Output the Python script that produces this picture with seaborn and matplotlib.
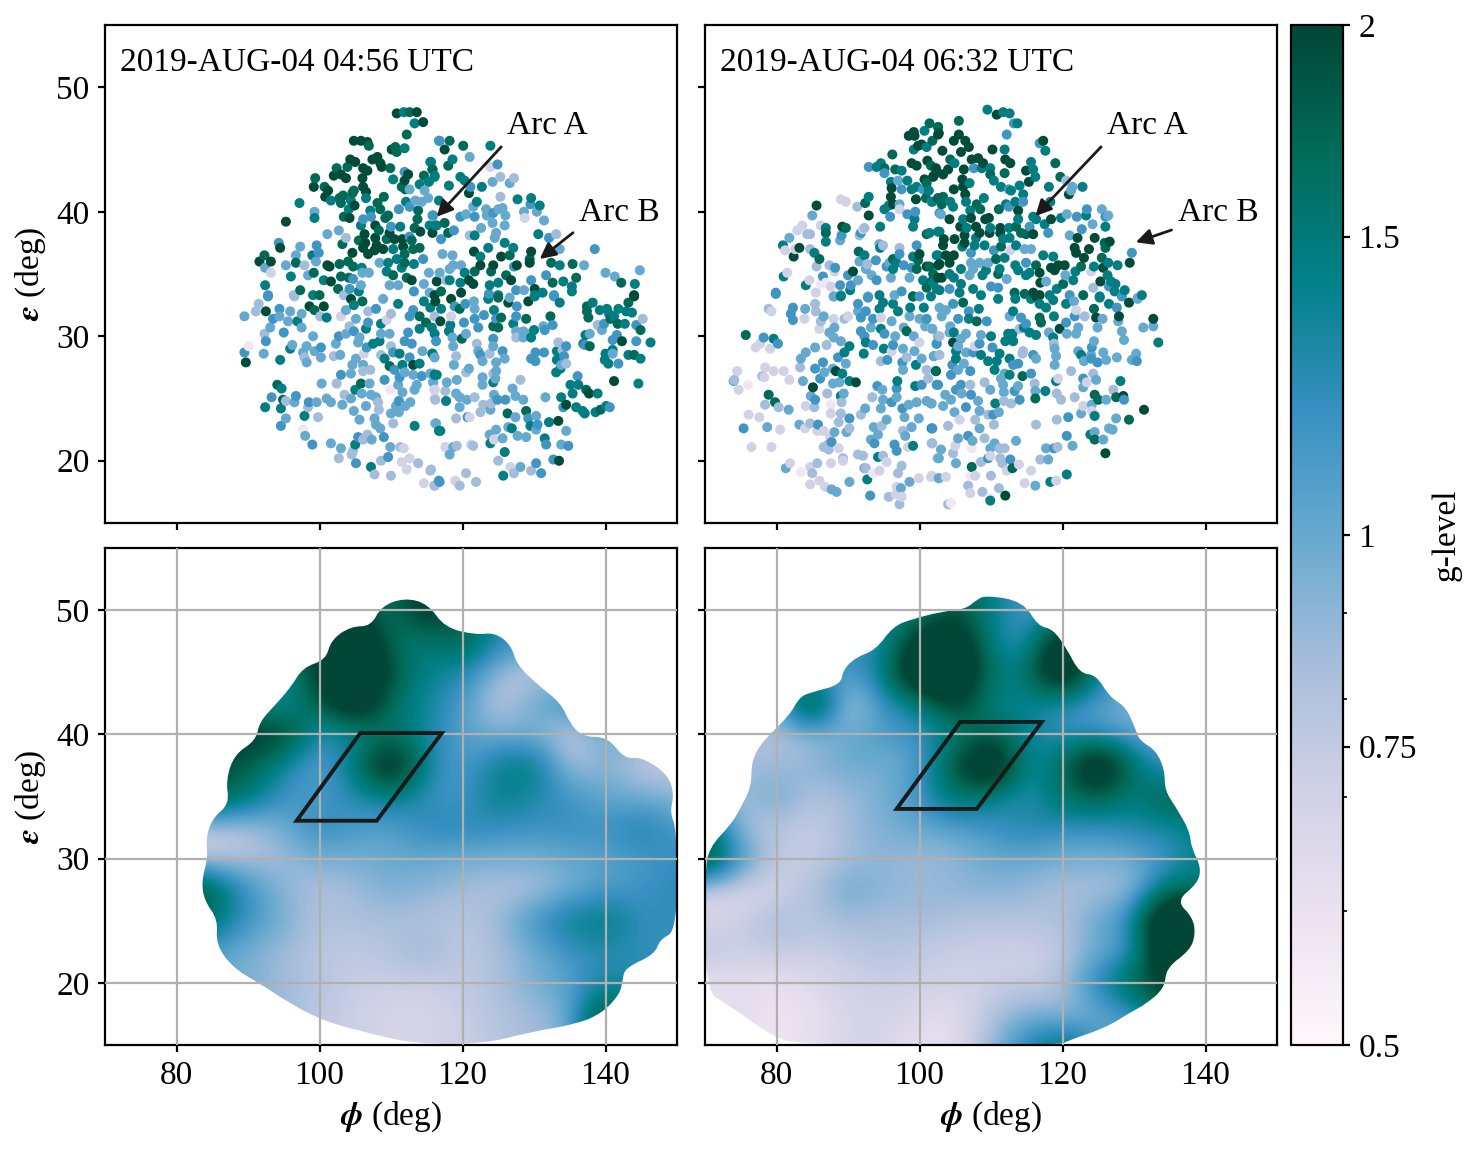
import numpy as np
import pandas as pd
import matplotlib
matplotlib.use("Agg")
import matplotlib.pyplot as plt
import seaborn as sns
from matplotlib.colors import LogNorm
from matplotlib.patches import Polygon, PathPatch
from matplotlib.path import Path
from matplotlib.cm import ScalarMappable
from matplotlib.ticker import NullFormatter

# g-levels
D, G, T, B, L, P, V, W = 1.95, 1.7, 1.45, 1.15, 1.0, 0.85, 0.7, 0.57

# ─── first epoch, scatter (phi, eps, g) ─────────────────────────
a_nw = [(110.8,47.9,D),(111.8,48,T),(112.6,48,G),(113.6,48,D),(113.3,47.1,T),(114.5,47.2,D),(112.2,46.2,G),(104.8,45.7,D),(105.8,45.7,D),(106.7,45.6,D),(106.9,45.3,G),(110.1,45,D),(110.6,45.2,G),(110.8,44.8,G),(111.9,45.1,T),(116.8,45.7,B),(104.3,44.2,D),(105,44,D),(107.4,44.2,D),(108.1,44.4,D),(108.5,43.9,D),(108.7,43.6,D),(115.5,44,T),(115.8,43.4,G),(102.4,43.5,G),(103.9,43.6,G),(102,42.9,D),(103,43,D),(103.7,42.7,D),(106.1,43.5,D),(106.7,43.3,D),(109.9,43.5,G),(111.9,43.2,B),(112.4,43,D),(116.1,42.9,T),(114.6,42.9,G),(110.3,42.6,T),(106,42.7,D),(111.9,42.5,D),(99.4,42.7,G),(99.2,42,D),(100.7,42,G),(101.2,41.7,D),(100.8,41.2,D),(106.1,42,D),(104.8,41.7,G),(104.6,41.5,G),(106.5,41.6,D),(111.5,42,G),(112,41.8,G),(112.6,41.8,L),(114,42.2,T),(115.3,42.4,T),(114.7,41.7,L),(103.3,41.3,G),(102.8,41.1,G),(104.4,40.9,T),(106.5,41.1,T),(109,41.2,G),(97.2,40.7,T),(103,40.7,G),(101.6,40.9,T),(104.9,40.5,D),(112.1,40.8,T),(113.4,40.9,L),(114.3,40.8,L),(115.2,41.1,L),(108.1,40.7,G),(104.1,40.2,T),(108.5,40.2,G),(107.1,40.1,T),(111.1,40.2,B),(112.6,40.4,B),(113.8,40.1,G),(99.3,40,L),(103.4,39.6,G),(104.2,39.5,D),(99.3,39.5,T),(95.3,39.2,D),(106.1,39.4,B),(107.2,39.6,B),(109.2,39.5,G),(109.6,39.7,G),(105.8,38.9,T),(107.8,38.9,D),(113.7,39.4,G),(115.9,39.7,B),(101.1,38.2,L),(102.7,38.5,L),(103.7,37.9,P),(103.2,37.4,G),(106.3,38.2,D),(108.3,38.5,G),(110,38.8,B),(111.3,38.8,T),(114.1,38.4,D),(113.3,38.7,G),(115.4,38.9,T),(116.4,38.9,T),(105.5,37.7,G),(106.4,37.5,D),(107.8,37.9,D),(109.8,38.3,D),(110.5,37.8,D),(111.6,37.8,D),(109.4,37.8,G),(112.6,38,B),(94.3,37.5,B),(94.5,37.1,D),(97.3,37.2,L),(99.6,37.3,B),(111.7,37.2,D),(112.9,37.7,G),(108,37.3,D),(106.1,37.1,D),(104.6,36.7,D),(106.8,36.6,D),(107.7,36.9,D),(108.9,37,D),(110.3,37,T),(111.9,36.6,G),(113.1,37,G),(114,37.1,G),(92.3,36.5,G),(93.2,36,D),(91.6,36,D),(96.7,36.5,L),(99,36.5,T),(99.9,36.7,B),(96.7,35.9,G),(99.5,36,L),(92.4,35.5,L),(95.3,35.7,L),(97.9,35.7,P),(101.1,35.7,D),(101.4,35.6,D),(102.8,35.8,G),(104,36,G),(104.7,35.6,G),(105.9,35.5,T),(108.4,35.9,L),(109.6,35.9,T),(110.8,36.2,T),(111.9,35.9,G),(113.2,35.8,T),(114.5,36.2,B),(93.2,35.1,V),(96,34.8,T),(98.4,34.9,L),(99.2,35.1,G),(103,34.8,G),(104.1,34.7,G),(104.7,34.6,B),(106,35.1,L),(106.9,35.1,L),(109.4,35.2,T),(110.3,34.9,G),(112.2,34.7,G),(111.5,35.5,T),(112.9,34.5,D),(115.3,35.1,L),(92.4,34.1,T),(97.3,33.7,G),(100.6,34.5,T),(101.6,34.4,D),(102.6,33.8,G),(104.2,33.8,B),(105.8,34.1,L),(105.5,33.6,T),(109.8,34.1,L),(111,34.1,L),(114.6,34.2,L),(116.4,34.4,D),(92.8,33.3,B),(96.4,33.3,P),(99.1,33.3,T),(100,33.3,G),(103.4,33.3,P),(113.2,33.6,B),(115.4,33.5,L)]
a_ne = [(116.7,45.7,B),(118.2,45.7,G),(117.5,45,D),(120.1,45.3,G),(123.9,45.3,T),(121,44.4,L),(118.6,44.2,T),(118,43.7,G),(115.6,44,T),(115.8,43.4,G),(116.1,42.8,T),(119.7,42.8,T),(120.3,42.5,T),(124.9,43.8,B),(123.9,43.6,V),(125.3,42.8,P),(127.2,42.7,P),(126.6,42.3,L),(124.2,42.4,L),(118.1,42.1,T),(122.7,42,T),(121.1,42,B),(120.9,41.5,D),(125.3,41.2,P),(127.7,41,T),(129.6,41.1,T),(129.5,40.6,B),(130.8,40.5,T),(122,40.8,T),(116.7,40.9,T),(121.5,40.4,L),(123.3,40.2,L),(125,40.2,L),(125.6,40.3,L),(119.7,39.6,B),(120.5,39.8,L),(121.7,39.6,B),(123.4,39.7,L),(124.3,39.9,B),(126,39.7,L),(125.9,38.9,L),(128.6,40,L),(128.7,39.5,V),(130.4,40,L),(131.4,39.3,L),(124.2,39.1,L),(122.6,38.7,L),(115.8,39.7,B),(117.5,39.1,G),(116.2,38.9,T),(118.8,38.5,B),(115.8,38.3,D),(118,38.3,G),(117,37.8,B),(121,38.1,P),(121.7,38.1,T),(124.7,38.3,L),(124.5,37.9,L),(130.6,38.2,T),(133.1,38.2,P),(132.1,37.9,B),(125.9,37.5,T),(127.1,37.1,T),(123.6,37.1,T),(121.6,36.8,D),(133.6,37,L),(138.5,37,B),(117.2,36.6,L),(118.6,36.5,L),(129.6,36.8,D),(125.4,36.4,D),(126.6,36.5,G),(122.5,36.4,T),(129.4,36.2,G),(129.4,35.9,D),(132.4,35.9,G),(133.6,35.7,T),(135.4,35.8,G),(137,35.7,L),(127.6,35.7,D),(124.3,35.7,D),(122.5,35.7,D),(118.7,35.7,L),(119.8,35.7,L),(127.2,35.6,B),(124,35.2,G),(121.7,35.2,G),(120.3,35.1,T),(118.2,35.4,L),(116.8,35.1,L),(140,35.1,L),(141.3,34.8,L),(144.8,35.3,L),(131.7,34.9,B),(142.2,34.3,G),(144.1,34.2,T),(135.9,34.7,G),(126.1,34.9,G),(126.8,34.5,D),(120.9,34.5,D),(129.6,34.5,B),(132.6,34.3,G),(134.1,34.4,T),(135.3,34,T),(125,34.3,T),(123.8,34.1,T),(119.7,34.3,T),(118.2,34.5,T),(117.7,34.5,P),(121.5,34.2,D),(130.1,33.8,D),(127.5,33.7,B),(128.6,33.7,L),(131.2,33.5,T),(132.8,33.3,B),(135.3,33.6,T),(144,33.3,D),(125,33.3,T),(123.7,33.4,B),(119.8,33.5,D),(117,33.6,G),(116.1,33.3,D),(130.1,33.3,T)]
a_sw = [(92.8,33.2,B),(96.5,33.2,P),(91.5,32.6,P),(91.1,32,P),(92.5,32,D),(94.4,32.2,B),(89.5,31.6,L),(93.5,31.4,B),(94.4,31.6,L),(95.9,32,L),(95.6,31.2,L),(96.9,31.2,T),(97.5,31.8,L),(98.6,32.4,D),(99.3,32.1,G),(100.6,32.4,D),(101,31.5,T),(100.1,31.6,P),(103,31.6,V),(104.4,33,D),(103.7,32.1,L),(104.8,32.5,T),(106,32.8,G),(106.8,32,P),(107.9,32.2,B),(108.9,33,L),(111,32.6,T),(105.1,31.4,L),(106.8,31.1,B),(108.6,31,T),(110,31.8,P),(109.4,31.3,V),(113.1,32.1,B),(114,31.6,G),(112.6,31.6,B),(114.9,31.1,G),(115.5,32.3,T),(116.2,32.8,D),(114.6,32.8,T),(93.1,30.7,L),(97.5,30.7,L),(92.3,30.2,P),(95,30.3,B),(92.5,29.6,B),(99.1,30,L),(102.7,30,B),(104.2,30.8,P),(103.7,30.2,L),(104.8,30.4,B),(106.5,30.6,T),(90.1,29.2,W),(89.5,28.7,B),(89.7,27.9,D),(92.2,28.6,L),(94.5,28.1,T),(96.2,29.3,L),(95.9,29,T),(98.2,29.2,L),(97.7,28.7,L),(100.2,29.1,B),(99.3,28.8,L),(102.3,29.4,L),(102,28.4,P),(102.9,28.5,L),(100.2,28.3,L),(97.9,28.3,P),(98.2,27.9,L),(105.4,29.5,L),(105.6,29.9,L),(106.6,29.1,B),(107.5,29.4,T),(108.6,30.2,L),(108.4,29.6,T),(110,29.2,P),(111.9,29.6,B),(112.9,29.4,B),(114,30.6,T),(115.7,30.7,T),(109.8,30.2,L),(112.4,30.3,B),(106.2,28.6,V),(105.1,28.2,L),(104.6,27.7,L),(106.1,27.7,L),(108.6,28.5,P),(110.3,28.7,B),(111.2,28.6,T),(112.6,28.3,B),(114.4,28.8,L),(115.8,28.6,T),(109.8,27.6,G),(111.6,27.7,T),(113.1,27.7,D),(114,27.8,T),(109.1,28.2,T),(110.5,27.3,B),(103,26.9,B),(104.4,27,L),(106.1,27.2,P),(107.1,27.3,P),(111.9,27.1,L),(113.1,26.9,L),(114.3,26.8,B),(115.5,27,L),(116.4,26.9,T),(109.1,26.5,B),(111.2,26.7,B),(111,26.1,L),(113.6,26.1,L),(115.9,26.3,L),(94.1,26.1,G),(94.7,25.8,T),(100.3,26.2,L),(102.4,26.2,P),(105.8,26.2,G),(107,26.2,L),(105,25.7,T),(105.9,25.4,L),(109.9,25.7,W),(111.6,25.5,L),(113.3,25.7,L),(93.3,25.1,B),(96.7,25.2,B),(94.9,24.9,G),(96.5,24.7,L),(95.3,24.8,P),(103.5,25.3,P),(107.2,25.3,L),(107.9,25.1,L),(108.2,24.7,P),(116.1,25.7,V),(116.2,24.9,P),(92.4,24.3,T),(94.6,24.2,T),(98.5,24.7,B),(98.4,24.3,P),(99.6,24.7,L),(101,25,L),(101.6,24.7,L),(103.2,24.5,L),(104.4,25,L),(106.5,24.4,L),(108.3,24.1,P),(111.1,24.8,B),(110.7,24.4,L),(112.7,24.7,L),(112,24.4,L),(104.8,24,L),(105.6,23.3,L),(110,23.8,L),(111.1,23.9,L),(95.3,23.4,L),(97.9,23.6,T),(99.8,23.5,P),(107.7,23.4,L),(94.6,22.8,B),(107.9,22.9,L),(108.5,22.6,L),(110.3,23,P),(113.3,22.8,T),(116.3,23,L),(116.7,22.4,T),(97.7,22.5,W),(98,22,L),(105.4,21.9,B),(106.7,22.1,P),(106.1,21.7,P),(107.3,21.7,L),(109,21.9,B),(99,21.3,B),(101.6,21.4,L),(105,21.3,T),(103,21,L),(109.9,21.1,L),(111.3,21.1,P),(111.8,21,V),(104.7,20.8,P),(104.5,20.5,P),(102.7,20.2,P),(109.6,20.3,B),(108.6,20,P),(112.6,20.2,V),(111.5,19.9,V),(113.8,19.8,P),(105.1,19.8,B),(107.2,19.5,T),(112.2,19.3,V),(115.5,19.2,P),(107.7,18.9,P),(110,18.8,P),(114.6,18.2,V),(116.1,18,P),(116.7,18.4,B)]
a_se = [(118.4,33,D),(117,32.2,T),(116.1,31.6,P),(118.4,31.6,V),(116.9,31.2,D),(118.9,32.4,B),(120.4,32.6,B),(121.6,32.8,L),(121.7,32.2,L),(119.6,32.2,G),(123,31.7,B),(121.7,31.4,B),(120.2,31.1,B),(122.2,30.7,B),(118.3,30.9,T),(118.1,30.4,T),(120.5,30.2,L),(119.9,29.8,G),(116.1,30.2,T),(116.3,29.6,B),(118.6,29.9,L),(118.7,29.2,L),(115.8,28.6,T),(116.1,28.3,L),(119.1,28.4,P),(118.8,27.7,L),(122,29.4,P),(124.3,29.8,B),(124.3,29.2,L),(122.2,28.8,L),(122.5,28.5,B),(123.8,28.6,P),(122.8,28,L),(125.6,28.8,B),(124.7,27.9,L),(125.9,28.2,L),(120.9,27.4,L),(120.5,27.1,P),(124.7,27.2,L),(124.3,27,P),(115.9,27,L),(116.1,26.9,T),(115.9,26.3,L),(117.8,26.3,L),(119.2,26.5,L),(122.8,26.7,L),(124.6,26.6,L),(124.3,26.3,T),(122.8,26.1,L),(128.1,26.5,P),(116.1,25.7,V),(117.6,25.6,P),(119.1,25.4,L),(127,25.8,L),(116.1,25,V),(117.7,24.8,T),(119.6,25.1,L),(120.6,24.9,L),(121.7,25.1,P),(124.4,25.3,L),(124.9,24.9,B),(126,24.9,B),(127.4,25.2,L),(128.5,24.9,L),(131.6,25.1,L),(133.8,25.1,T),(134.5,24.5,D),(134.1,24.3,B),(122.9,24.5,P),(124,24.6,P),(123.9,24.1,L),(119.6,24.3,L),(122.5,23.9,P),(121,23.5,V),(120.7,23.5,B),(119.1,23.4,P),(126.3,23.8,G),(128.9,24,G),(127.4,23.5,L),(130.3,23.6,L),(129.2,23.4,B),(133.4,23.2,D),(132.1,23.1,T),(130.5,22.9,B),(129.5,22.8,T),(130.3,22.5,L),(134.5,22.4,L),(116.2,23,L),(116.9,22.4,T),(126.4,22.7,L),(126.9,22.6,T),(124.7,22.5,L),(123.8,22.1,L),(127.7,22,L),(128.9,21.9,L),(125.6,21.8,L),(124.4,21.7,V),(123.9,21.4,T),(131.5,21.8,T),(131.7,21.3,B),(133.8,21.3,L),(134.8,21.2,B),(121.2,21.3,V),(121.5,21.2,P),(117.6,21.1,V),(118.7,21.1,L),(119.2,21.2,P),(118.2,20.5,L),(125.9,20.7,T),(125,20,P),(132.7,20.1,B),(133.5,20,D),(130.3,19.8,B),(126.7,19.5,V),(128.1,19.5,L),(129.6,19.2,P),(127.2,19,P),(131,19,B),(115.6,19.3,P),(125.7,18.8,T),(120.5,19,P),(121.9,18.3,P),(119,18.4,V),(116.8,18.3,B),(116.1,18,P),(119.6,18,P),(137.4,32.4,G),(138.2,32.7,T),(137.4,32,G),(137.6,31.5,G),(139.2,32.1,T),(140.2,32.2,T),(140.5,31.8,T),(140.7,31.4,G),(141.8,32.2,T),(142.9,32,T),(143.7,31.9,T),(143.2,32.7,G),(144,33.2,D),(145.2,31.4,P),(141.2,31.6,T),(141.7,31,G),(142.7,31,T),(144.3,30.9,B),(144.9,30.5,G),(138.9,30.9,P),(139.8,31,B),(139.5,30.5,L),(137.2,30.1,T),(137.8,30.2,L),(141.6,30.1,B),(141,29.7,B),(142.3,29.6,D),(144.3,29.6,B),(146.3,29.5,T),(136.9,29.4,T),(137.8,29.2,G),(137.1,29.3,B),(140,28.6,T),(141,28.9,T),(141,28.6,L),(143.2,28.5,T),(144,28.5,G),(144.9,28.2,T),(139.9,28.1,T),(140.4,27.8,T),(141.8,27.8,B),(133.4,29.5,P),(134.5,29.2,B),(134,28.9,P),(133.2,28.8,T),(134.2,28.4,B),(133.2,28.1,T),(134.5,27.8,P),(133.8,27.7,L),(133.1,27.1,T),(133.7,27.4,T),(129.6,28.2,B),(130.2,28.7,B),(130.2,28,B),(131.4,28.7,B),(141.2,26.4,D),(144.6,26.2,T),(136.1,26.8,B),(135.1,26.1,T),(136.2,26.1,T),(137.3,25.7,G),(137.7,25.4,D),(138.9,25.4,T),(135.4,25.4,T),(135.9,24.3,T),(136.8,24,T),(137.1,23.8,T),(138.6,23.9,T),(139.3,24.1,G),(140.1,24.4,T),(140.6,24.3,B),(128.9,31.4,G),(127.1,31,T),(127.5,31.6,B),(126.4,32.7,D),(129.2,32.8,D),(130.1,33.2,T),(132.8,33.2,B),(133.6,32.7,T),(132.3,31.6,G),(132.6,30.9,B),(131.3,30.8,L),(131.5,30.5,B),(130,30.5,T),(124.3,30.8,G),(125,30.7,G),(125.4,31.5,G),(124.7,31.4,B),(127.5,30.4,L),(127.5,29.9,P),(128.5,30.4,L),(129.2,30.2,L),(129.6,29.9,T),(128.5,29.9,L),(124.4,32.1,T),(123.6,33,T),(125,33.1,G),(126.6,33.1,L),(127.6,32.4,B)]

# ─── second epoch, scatter (phi, eps, g) ────────────────────────
b_nw = [(101.4,47.1,G),(102.6,46.8,T),(100.7,46.5,T),(99.2,46.4,D),(98.5,46.1,D),(99.3,46.1,D),(102.6,46.2,D),(101.8,45.7,G),(100.3,45.4,D),(99.8,45.3,D),(99.2,45,T),(101,45.2,T),(96.2,44.6,G),(98.9,43.9,D),(99.6,43.7,D),(101.1,44.1,D),(101.6,43.7,G),(102.4,43.3,D),(101.9,42.8,D),(94.6,43.9,T),(92.9,43.6,B),(94,43.6,T),(95.1,43.5,G),(95.1,43.1,B),(96.6,43.4,G),(97.5,43.3,T),(97,42.5,L),(96,42.4,T),(98.3,42.5,T),(100.7,42.6,D),(101,42.3,G),(96.1,41.9,D),(97.5,41.8,B),(99.6,42,T),(98.9,41.8,T),(100.5,41.8,B),(101.3,41.7,T),(96,41.2,D),(99.5,41,D),(100.9,41.1,G),(102.6,41.1,D),(92.9,41.2,T),(92.4,40.7,G),(89,41,V),(89.7,40.8,V),(85.6,40.5,D),(91.3,40.4,P),(95.7,40.5,T),(96.3,40.6,D),(97.2,40.6,L),(95.1,40.2,T),(97.2,40.2,V),(101.7,40.8,B),(98.3,39.8,B),(99.4,40,B),(85,39.7,L),(92.9,39.7,D),(95.9,39.6,B),(99.3,39.4,T),(102.8,39.9,B),(99.1,38.8,T),(94.5,38.8,T),(83.6,38.9,V),(82.9,38.5,V),(86.2,38.9,V),(86.9,38.7,T),(86.9,38.3,G),(89.2,38.8,D),(89.7,38.7,G),(92.3,38.7,P),(92.1,38.6,V),(91.8,38.3,B),(91.6,38.1,P),(84.3,38.2,P),(84.7,38.2,P),(81.8,37.9,L),(89.1,38.1,B),(88.9,37.7,L),(86.9,37.6,T),(80.9,37.3,T),(83.2,37.1,D),(82.6,37,V),(81.2,36.9,V),(82.4,36.4,D),(84.7,37,P),(85.3,36.7,T),(86,36.2,G),(94.4,37.4,L),(94.9,37.3,P),(94.5,37.1,T),(97.2,37.1,P),(99.6,37.3,B),(101,38.2,G),(102.6,38.4,T),(92.3,36.5,T),(91.5,36.8,G),(93.9,36.1,B),(91.6,36,L),(92.7,35.8,P),(96.3,36.2,G),(97.2,36.6,B),(99.1,36.4,T),(100,36.6,D),(99.8,36.1,G),(102.4,36.5,T),(95.8,35.9,L),(95.4,35.6,B),(96.8,35.9,T),(97.8,35.7,B),(98.9,35.5,B),(101,35.6,D),(101.4,35.6,G),(102.6,35.7,D),(85.6,35.6,P),(87.4,35.7,P),(88.2,35.5,B),(88.1,35.2,V),(81.5,35.1,V),(81,34.8,T),(90.7,35.2,D),(90,34.9,B),(92.5,35.4,L),(93.3,34.9,L),(96,34.7,L),(94,34.5,B),(96.3,35.4,T),(99.6,35.4,G),(98.6,34.7,L),(100.5,34.5,T),(101.7,34.4,G),(102.6,34.7,D),(86.5,34.8,B),(84.6,34.5,V),(91.4,34.5,L),(84.1,34.1,T),(87.6,34,V),(86.9,34.3,W),(86.2,34.2,W),(88.9,34.1,B),(90.4,34.1,B),(90.3,33.7,T),(79.9,33.5,B),(85.5,33.5,V),(88,33.2,L),(89,33.3,B),(92.8,33.2,L),(94.4,33.3,T),(97.5,33.6,B),(96.5,33.3,L),(99.1,33.2,T),(101,33.9,G),(102.4,33.8,T),(100,33.2,B)]
b_ne = [(109.5,48.2,T),(110.8,47.8,D),(111.7,48,T),(112.6,47.9,T),(105.5,47.3,G),(113.2,47.1,B),(113.7,47.1,T),(112.2,46.2,B),(102.6,46.8,G),(102.7,46.3,D),(104.8,45.7,D),(105.5,46.2,D),(106.4,45.7,D),(106.9,45.2,D),(105.8,44.8,D),(103.2,44.9,D),(110.2,45,D),(111.9,45,T),(116.8,45.5,B),(117.3,45.7,D),(117.6,44.9,T),(107.3,44.2,D),(108.2,44.3,D),(108.9,43.9,D),(104.3,44.2,G),(104.9,43.9,T),(112,44.2,D),(112.7,43.9,D),(115.6,44,T),(119,43.9,G),(107.6,43.5,B),(109.9,43.5,T),(108.7,43.5,T),(106.2,43.4,D),(104,43.4,D),(102.3,43.5,D),(103.3,43,D),(102,42.9,D),(114.9,43.3,D),(115.9,43.4,T),(111.9,43.1,G),(109.9,43,G),(116.2,42.8,T),(115.3,42.4,D),(119.7,42.8,G),(106,42.6,D),(110.4,42.5,T),(107,42.3,T),(114,42.1,T),(111.4,42,T),(112.5,41.8,B),(112.8,41.7,T),(118.1,42,T),(120.5,42.5,P),(121.4,42,L),(121.2,41.7,L),(122.8,42,T),(120.9,41.4,D),(104.8,41.8,D),(106.1,42,D),(106.4,41.4,D),(103.3,41.2,G),(102.8,41.1,G),(109,41.1,T),(114.5,41.4,T),(101.8,40.8,T),(104.3,40.8,T),(106.5,40.8,T),(113.4,40.8,T),(114.5,40.8,B),(112.1,40.6,T),(118.3,40.8,T),(103.1,40.6,G),(108,40.6,G),(111.1,40.2,G),(108.5,40.2,G),(112.5,40.4,B),(104.7,40.4,T),(107.1,40.1,T),(113.8,40.1,D),(125.5,40.2,L),(123.4,40.2,B),(103,39.8,L),(104.2,39.4,D),(109.7,39.5,D),(109.2,39.4,D),(107.2,39.5,D),(106.1,39.4,T),(113.8,39.4,T),(116.3,39.4,T),(118.4,39.4,D),(115.9,39.6,T),(120.6,39.8,L),(122,39.6,B),(123.3,39.7,T),(126,39.6,B),(126.4,39.7,L),(119.8,39.5,T),(105.7,38.8,D),(106.6,38.7,T),(107.9,38.8,D),(109.9,38.7,T),(111.3,38.7,D),(112.5,38.7,T),(113.5,38.8,G),(115.4,38.8,B),(117.5,39,T),(124.2,39,L),(126,38.8,T),(122.7,38.6,B),(101.4,38.3,T),(102.8,38.4,T),(106.3,38.1,D),(108.4,38.3,D),(109.8,38.3,D),(111.3,38.3,D),(114.2,38.3,G),(114.9,38.2,G),(115.9,38.2,D),(118,38.3,B),(121,38.1,L),(122.1,37.9,D),(124.5,37.9,D),(103.4,37.8,D),(104.9,37.8,D),(106.3,37.5,D),(107.9,37.9,T),(111.7,37.8,T),(112.6,37.9,T),(103.3,37.3,D),(106,37.2,T),(107.7,37.3,T),(109.1,37.3,T),(111.4,37.2,G),(112.7,36.9,V),(113.5,37.3,T),(114.7,37,L),(115.6,37,L),(125.9,37.5,G),(126.6,37.6,D),(121.7,37.1,D),(123.7,37,D),(126,37.1,G),(129.7,36.7,B),(102.6,36.5,T),(103.7,36.5,D),(104.8,36.5,D),(107.2,36.7,B),(110.4,36.9,B),(117.3,36.5,T),(118.7,36.4,T),(121.9,36.7,D),(123,36.3,D),(102.8,35.8,D),(104.2,35.9,D),(107.2,35.9,L),(108.4,35.9,L),(109.6,35.9,L),(110.7,36.2,G),(111.9,36.3,T),(113.4,35.7,T),(114.9,35.9,B),(116.3,35.7,G),(129.4,35.9,D),(125.5,36.3,G),(127.7,35.7,T),(126.4,35.9,T),(124.4,35.6,T),(122.6,35.6,G),(125.7,35.5,D),(118.4,35.5,D),(119.4,35.7,D),(120.3,35.7,D),(118.9,35.3,D),(120.4,34.9,L),(116.8,35.1,D),(124,35.2,V),(121.8,35.2,T),(105.8,35.4,T),(107.5,35.4,L),(109.3,35.3,T),(111.2,35.4,T),(113.8,35.3,T),(115.4,35.1,T),(104.2,35,T),(101.9,35,G),(103.1,34.7,D),(104.8,34.7,T),(107,34.9,L),(108.8,34.9,T),(111,35,G),(112.2,34.6,L),(114.9,34.9,T),(116.9,34.3,D),(117.7,34.4,L),(125.3,34.4,D),(126.3,34.9,T),(126.8,34.4,T),(119.2,33.8,T),(120.1,34.2,G),(121.5,34.5,T),(124.3,33.9,P),(126.5,34,B),(127.4,34.2,T),(128.7,33.7,T),(127.3,33.6,T),(131.1,33.3,T),(130.5,33.1,P),(110,34,B),(111,33.9,B),(101.9,34.3,T),(104.2,33.8,B),(102.8,33.7,T),(105.8,34.2,T),(105.6,33.5,T),(107.5,33.8,T),(108.6,33.3,T),(113.3,33.5,G),(114.7,33.4,G),(115.9,33.5,D),(116.8,33.3,D),(118.2,33.3,T),(121,33.3,B),(122.9,33.3,G),(125.2,33.2,T),(128.3,33.2,B)]
b_sw = [(78.9,32.2,P),(79.3,32,V),(82.3,32.3,B),(82,31.8,B),(82.3,31.3,B),(84,32.2,L),(83.9,31.4,V),(85.4,32.6,P),(85.5,32,P),(86.6,31.6,L),(86.2,31.2,P),(88,31.4,V),(89.5,31.4,P),(90,31.6,V),(86,30.6,V),(88.1,30.7,L),(87.4,30.3,L),(88,29.9,L),(89,29.6,L),(75.7,30.1,G),(78.2,29.9,B),(79.6,29.8,T),(80.2,29.4,B),(77.7,29.4,V),(77.1,29.1,V),(79.1,29,V),(87,29.3,P),(90.2,29.2,T),(89.5,28.7,T),(85.4,29.1,L),(84.1,28.7,L),(83.4,28.2,L),(88.6,28.3,B),(89.7,27.8,L),(86.5,27.9,B),(92.2,28.6,T),(83.3,27.5,P),(85.4,27.4,B),(87.9,27.4,L),(86.7,27.1,L),(88.3,27.2,D),(89.2,27,T),(78.4,27.5,V),(79.6,27.2,V),(81,27.2,V),(74.5,27.2,V),(78,26.8,P),(78.3,26.7,V),(81.8,26.5,V),(86.1,26.6,B),(83.7,26.4,L),(74.1,26.5,P),(74,26.4,L),(76,26.1,W),(74.7,25.7,V),(85.1,25.9,D),(87.9,26.2,L),(88.8,26.3,L),(90.2,26.4,T),(91.1,26.3,D),(94.1,26,B),(94.8,25.7,L),(96.9,26.4,T),(96.8,25.8,B),(99.4,26,T),(100.3,26.1,B),(101.2,26.6,P),(102.4,26.1,B),(102.3,27.2,G),(101,27.3,P),(99.5,27.7,T),(97.7,27.3,L),(97.6,27.9,B),(95.5,28.1,B),(94.6,28,P),(100.3,28.2,L),(102,28.4,L),(98.2,28.3,P),(99.3,28.8,L),(97.7,29,L),(96.3,29.3,B),(96.1,28.8,V),(95,29,T),(93.5,29.3,B),(92.5,29.5,T),(91.8,30.4,B),(92.3,30,B),(94.6,30.6,T),(95.1,30.2,B),(93.2,30.7,L),(96.6,30,L),(98.2,30.4,G),(99.2,30,L),(100,29.5,V),(102.4,29.4,B),(100.8,30.8,L),(101.7,30.6,P),(102.6,30,L),(91.4,32,L),(92.5,32,B),(91.8,31.5,B),(93.5,31.4,B),(94.6,31.5,V),(94.4,32.2,T),(96.1,31.2,L),(97.8,30.7,L),(98.6,31.6,L),(100,31.4,L),(101,31.4,B),(96.3,32.6,T),(97,32,T),(98.7,32.3,T),(100.6,32.3,T),(102.8,32.3,L),(99.1,33.2,G),(101.6,33.2,T),(92.8,33.1,B),(94.9,32.7,T),(91.4,32.6,B),(89,33.2,T),(88,33.2,L),(79.9,33.4,B),(78.9,25.3,G),(79.8,24.7,G),(78.4,24.5,P),(80.3,24.3,P),(81.7,24.1,L),(84.8,25.2,L),(85.4,24.9,B),(84.1,24.4,V),(85.3,24.3,P),(87.1,25.4,P),(89.4,25.4,L),(89,25.2,T),(89.1,24.7,P),(87.6,24.5,W),(87.6,23.8,V),(89,23.8,P),(93.4,25.1,P),(94.9,24.9,L),(96.1,24.7,B),(96.8,25.1,L),(94.6,24.2,L),(92.4,24.2,L),(91.8,23.7,P),(97.6,24.2,B),(98.5,24.5,L),(99.6,24.7,L),(101,24.8,L),(101.7,24.6,L),(97.9,23.5,L),(99.9,23.4,L),(76.1,23.7,V),(77.6,23.5,V),(75.4,22.6,B),(78.7,22.7,L),(80.5,22.5,V),(83.2,22.9,L),(84.7,23,P),(85.8,22.9,B),(84,22.6,V),(85.7,22.4,V),(86.6,22.4,V),(88.7,23.1,P),(90.2,23.4,B),(90.2,22.6,P),(89.8,22.3,L),(88.1,22.3,L),(87.5,21.9,V),(87.7,21.5,B),(95.4,23.3,L),(93.6,22.7,L),(94.7,22.8,P),(94.2,22.1,L),(93.2,21.7,L),(93.7,21.4,B),(97.7,22.4,P),(98.9,22.7,L),(101.7,22.6,T),(98,22,L),(101.7,21.4,P),(96.5,21.3,B),(96.8,20.8,B),(98.4,21.1,V),(99.1,21.2,T),(86.6,21.1,P),(87.2,21.3,P),(88.7,21,V),(87.3,20.9,P),(76.5,21.1,V),(79.3,21.1,V),(91.4,20.5,P),(92.1,20.4,P),(94.2,20.3,T),(94.9,20.4,P),(95.4,19.9,V),(89.3,20.2,P),(89.3,20,V),(102.5,20.2,P),(81.9,19.8,V),(81.3,19.4,L),(85.7,19.8,P),(87.6,19.8,V),(84.7,19.5,V),(83.4,19.1,W),(85,19,P),(92.3,19.4,L),(92.5,19.4,P),(97.5,19.6,P),(94.4,19.2,V),(93.5,19,W),(97,19,P),(101.7,18.8,V),(99.9,18.6,V),(102.7,18.6,L),(92.7,18.5,T),(98.6,18.3,L),(86,18.4,V),(84.7,18.1,V),(90.2,18.3,L),(86.8,17.9,V),(87.7,17.7,L),(88.4,17.5,L),(96.8,17.9,V),(97.4,17.8,L),(93.1,17.2,B),(95.7,17.1,P),(96.7,17.3,V),(97.5,17.1,V),(97.2,16.5,P)]
b_se = [(129.3,32.7,D),(130.5,33,L),(131.3,30.7,L),(132.7,30.8,L),(132.7,31.4,D),(133.4,29.5,T),(127.9,31.6,D),(127.6,32.3,B),(127.8,31.2,L),(124.7,31.5,D),(125.6,31.4,L),(124.4,32.2,G),(126.5,32.6,T),(125.2,33.1,T),(123.1,31.6,P),(121.9,32.1,V),(124.9,30.7,L),(121.7,31.6,B),(122.2,30.7,L),(120.6,30.2,L),(121.9,30.2,L),(119.6,30.6,D),(120.5,31.1,B),(118.7,29.9,T),(118.8,29.4,P),(118.9,29,L),(119.1,28.4,L),(118.9,27.7,L),(122.2,28.8,L),(122.6,28.5,T),(123,28,L),(124,28.5,L),(124.4,29.6,L),(124.1,29.1,B),(124,28.2,B),(124.9,27.9,B),(125.7,28.7,L),(126.1,28.1,L),(127.6,28.3,L),(128.3,30.4,L),(128.6,29.7,L),(129.7,28.1,L),(130.3,28.6,L),(130.4,28,B),(121.2,27.2,P),(119.4,26.6,V),(119.1,26.4,T),(122.9,26.6,B),(124.3,27,P),(124.7,26.5,L),(123.4,26.3,V),(122.9,25.9,L),(128.1,26.4,T),(127.1,25.7,P),(124.5,25.3,G),(125,24.9,G),(126.1,24.9,L),(127.5,25.1,G),(128.5,25.2,D),(128.6,24.9,B),(119.2,25.4,P),(119.8,24.9,P),(121.7,25.1,P),(122.9,24.4,V),(124.1,24.5,L),(124.1,24,V),(131.4,24.1,D),(122.6,23.8,L),(124.5,23.6,T),(127.5,23.4,L),(129.3,23.3,G),(119.2,23.3,P),(120.8,23.5,B),(116.3,22.9,P),(120.6,22,B),(121.4,21.2,L),(123.9,22.1,T),(124.5,22.3,L),(124.5,21.7,G),(125.7,21.7,L),(126.5,22.6,L),(127,22.5,L),(126,20.6,D),(117.7,21,L),(118.8,21,B),(119.3,21.1,P),(118,20.1,L),(116.9,20.1,P),(120.6,18.9,T),(115.6,19.2,V),(119.1,18.4,V),(118.3,18.3,T),(114.7,18.2,V),(116.2,18,L),(111,33,T),(113.4,33,T),(115.6,33,T),(116.3,33.2,D),(118.7,32.9,T),(120.5,32.6,T),(121.6,32.8,L),(116.8,32.6,T),(113.1,32,T),(114.2,31.5,B),(114.9,31,B),(116.8,31.5,G),(117,31.1,G),(118.8,31.6,T),(117.7,32.3,T),(112.6,31.6,L),(109.4,31.2,B),(108,31.2,G),(108.3,32.2,T),(106.9,32,B),(106.9,31.4,T),(105.4,31.4,B),(106.1,32.7,G),(103.7,32.1,L),(104.7,32.6,B),(103.1,31.6,L),(101.8,30.6,L),(104.3,30.8,L),(104.2,30.3,L),(102.8,30,P),(102.4,29.4,B),(104.8,30.3,T),(104.7,29.5,D),(106.5,30.2,L),(105.8,29.8,L),(105.4,29.2,L),(107.7,29.2,V),(108.6,30.1,L),(110,30,T),(108.4,29.4,B),(112.4,30.2,T),(113,30.2,T),(112,29.6,T),(113.1,29.6,T),(114,30.6,P),(114.6,30.7,T),(115.4,30.3,T),(116.3,30.1,T),(118.1,30.3,L),(110.2,29.1,B),(111.2,28.6,T),(108.6,28.5,T),(107.5,28.7,B),(106.5,28.7,L),(105.1,28.8,T),(102.8,28.5,P),(102,28.4,L),(105.1,28.2,T),(104.6,27.7,B),(106.2,27.8,L),(109.6,28,T),(110.8,28,T),(112.6,28.2,T),(114.5,28.8,P),(114.4,28.6,P),(115.9,28.5,B),(116.3,28.2,L),(102.3,27.2,G),(104.4,26.9,B),(105.4,27.3,L),(107.1,27.2,B),(110.5,27.3,T),(111.9,27,L),(112.6,26.9,T),(113.1,27.7,B),(113.8,27.8,B),(114.4,26.8,G),(115.6,27,B),(116.1,26.2,P),(117.6,25.6,T),(116.2,25.6,L),(116.2,25,G),(113.3,25.6,B),(113.8,26,L),(111.8,25.5,L),(111.7,26.1,L),(111.4,26.6,L),(109.9,25.7,L),(109.1,26.3,P),(107.1,26.1,P),(105.8,26.1,B),(102.6,26.1,B),(105.1,25.7,B),(105.9,25.4,L),(103.6,25.3,L),(104.4,24.9,L),(107.2,25.3,B),(108.2,24.8,L),(110.6,24.6,T),(111.8,24.8,P),(112.8,24.6,P),(114,24.9,B),(103.3,24.4,L),(101.6,24.6,L),(106.5,24.3,B),(108.4,24,L),(109.6,23.7,P),(111.1,23.9,L),(110.3,23.7,B),(104.9,23.9,L),(105.6,23.3,V),(107.8,23.3,P),(110.4,22.9,P),(104,22.8,P),(108.4,22.6,L),(101.8,22.6,B),(105.4,21.8,L),(106.8,22,B),(107.4,21.6,L),(109.1,21.8,P),(110.5,21.4,L),(113.5,21.6,L),(111.2,21,P),(111.9,21,P),(109.9,21,L),(101.8,21.4,P),(103,20.9,L),(105,21.2,V),(104.7,20.6,P),(107.3,21,W),(109.6,20.2,B),(109.9,20.4,V),(111.3,20.2,P),(112.7,20.1,B),(102.7,20.2,L),(105.1,19.8,L),(108.6,19.9,P),(113.9,19.7,V),(111.6,19.8,P),(113,19.4,G),(112.2,19.2,V),(107.3,19.5,G),(101.6,18.7,V),(102.7,18.6,L),(103.7,18.7,V),(107.2,18.8,W),(107.8,18.8,V),(110,18.8,P),(106.8,18,P),(111.1,17.8,P),(108.8,17.5,P),(107.1,17.4,V),(109.8,17,W),(109.9,16.8,T),(112,17.2,D),(104,16.5,P),(104.4,16.6,W)]

# ─── gridded g-level maps, rows low eps to high eps ─────────────
grid_phi = [70, 75, 80, 85, 90, 95, 100, 105, 110, 115, 120, 125, 130, 135, 140, 145, 150]
grid_eps = [15, 17.5, 20, 22.5, 25, 27.5, 30, 32.5, 35, 37.5, 40, 42.5, 45, 47.5, 50, 52.5]
field_a = [
    [.9, .9, .9, .9, .9, .85, .75, .72, .68, .68, .72, .78, .85, .9, 2.2, 1.2, 1.2],
    [.9, .9, .9, .95, .95, .85, .76, .72, .68, .68, .72, .8, .85, .95, 2, 1.3, 1.2],
    [1, 1, 1, 1, .95, .85, .8, .72, .72, .72, .75, .82, .95, 1.05, 1.3, 1.3, 1.2],
    [1.05, 1.05, 1.05, 1.05, .95, .85, .77, .75, .8, .88, .75, .82, .95, 1.15, 1.25, 1.2, 1.2],
    [2, 2, 2.2, 1.5, 1.15, .95, .8, .82, .82, .8, .78, .85, 1.15, 1.4, 1.5, 1.2, 1.2],
    [2, 2, 2.2, 1.7, 1.15, .9, .8, .85, .95, .9, .85, .8, .8, .95, 1.1, 1.15, 1.25],
    [.72, .72, .72, .72, .8, .85, .95, .95, 1, 1, .95, .95, .95, 1, 1.05, 1.1, 1.2],
    [.75, .75, .75, .75, .8, .95, 1.25, 1.1, 1.05, 1.25, 1.25, 1.2, 1.15, 1.2, 1.15, 1.35, 1.1],
    [1.8, 1.8, 1.8, 1.8, 1.5, 1.15, 1.1, 1.25, 1.4, 1.2, 1.1, 1.45, 1.3, 1.15, 1, .95, .9],
    [2, 2, 2, 2, 1.8, 1.3, 1, 1.5, 2.6, 1.3, 1.05, 1.4, 1.5, .78, .95, .75, .75],
    [2, 2, 2, 2, 2.2, 2.1, 1.15, 1.3, 1.6, 1.3, 1.05, .95, .95, .7, 1, .9, .8],
    [1.3, 1.3, 1.3, 1.3, 1.3, 1.25, 1.8, 2.6, 1.6, 1.35, 1.1, .72, 1, 1.2, 1.2, 1, 1],
    [1.3, 1.3, 1.3, 1.3, 1.3, 1.3, 2.1, 2.8, 1.9, 1.35, 1.3, .85, .72, .8, 1, 1, 1],
    [1.5, 1.5, 1.5, 1.5, 1.5, 1.5, 2.2, 2.8, 1.6, 1.5, 1.8, 1.25, 1.2, 1.1, 1, 1, 1],
    [1.5, 1.5, 1.5, 1.5, 1.5, 1.5, 2.2, 1.9, 1.55, 2.3, 1.8, 1.2, 1.1, 1, 1, 1, 1],
    [1.5, 1.5, 1.5, 1.5, 1.5, 1.5, 2.2, 1.9, 1.55, 2.3, 1.8, 1.2, 1.1, 1, 1, 1, 1],
]
field_b = [
    [.58, .58, .58, .62, .68, .68, .6, .62, .85, 1.25, 1.6, 1.1, 1, 1.5, 1.5, 1.5, 1.5],
    [.6, .65, .58, .6, .68, .7, .65, .62, .78, .95, .85, 1, 1.1, 1.7, 1.7, 1.7, 1.7],
    [.6, .62, .6, .65, .7, .72, .72, .7, .72, .72, .8, 1.25, 1.8, 2.2, 1.9, 1.9, 1.9],
    [.78, .72, .75, .72, .75, .8, .75, .72, .72, .7, .75, 1, 1.1, 2.8, 3, 3, 3],
    [.68, .72, .85, .78, .85, .82, .85, .8, .78, .8, .8, 1, 1.25, 3, 3, 3, 3],
    [.68, .65, .68, .8, 1, .9, .88, .9, .92, .88, .82, .82, .85, 1.6, 1.5, 1.5, 1.5],
    [2, 1.1, .75, .72, .85, .9, .85, .88, 1, 1, .95, .95, .95, 1.15, 1.45, 1.5, 1.5],
    [1.7, .8, .8, .72, .85, .95, 1, 1.05, 1.15, 1.3, 1.2, 1.15, 1.3, 1.3, 1.5, 1.5, 1.5],
    [.85, .85, 1, .8, .85, .95, 1.15, 1.6, 1.4, 1.2, 1.6, 1.8, 1.4, 1.9, 1.5, 1.5, 1.5],
    [.85, .85, .85, .9, 1, .95, 1.05, 1.9, 2.8, 1.25, 1.6, 2.8, 1.5, 1.1, 1.1, 1.1, 1.1],
    [.8, .8, .8, .85, 1, 1.1, 1.15, 1.4, 1.8, 1.35, 1.2, 1.1, 1, 1, 1, 1, 1],
    [.9, .9, .9, 2.2, .62, 1.2, 1.4, 2.2, 1.4, 1.4, 1.2, 1.1, .9, .9, .9, .9, .9],
    [1.1, 1.1, 1.1, 1.1, 1.1, 1.4, 2.8, 2.8, 1.5, 1.5, 2.8, 1.25, 1.1, 1, 1, 1, 1],
    [1.2, 1.2, 1.2, 1.2, 1.2, 1.2, 2.3, 2.5, 1.4, 1.1, 2.6, 1.5, 1.2, 1, 1, 1, 1],
    [1.4, 1.4, 1.4, 1.4, 1.4, 1.4, 1.4, 1.9, 1.4, 1.1, 1.1, 1.1, 1.1, 1, 1, 1, 1],
    [1.4, 1.4, 1.4, 1.4, 1.4, 1.4, 1.4, 1.9, 1.4, 1.1, 1.1, 1.1, 1.1, 1, 1, 1, 1],
]
# outline of the mapped region
edge_a_phi = [111.9, 115.2, 117.5, 121.9, 124.5, 126.8, 127.6, 130.5, 133.8, 135, 136.8, 140.3, 142.7, 145, 148.7, 149.6, 149, 150, 150, 147.6, 146.9, 142.7, 142.4, 142, 139.6, 136.1, 129.1, 123.1, 113.3, 107.2, 100.7, 96, 91.8, 87.9, 85.5, 85.8, 83.9, 83.5, 84.4, 84.1, 85.1, 87.4, 86.9, 88.1, 91.1, 91.6, 93.7, 96, 97.7, 100.9, 101.6, 104.4, 107.2, 108.6]
edge_a_eps = [51, 50.5, 48.6, 48, 48.2, 47.2, 45.6, 44, 42.5, 40.9, 39.8, 39.8, 38, 38.2, 36.8, 35.2, 33.7, 32.3, 24.2, 23.5, 22.3, 21.2, 20.2, 19.1, 17.6, 16.7, 16, 15.1, 15.1, 15.9, 16.9, 18.3, 19.9, 21.2, 23.1, 25.1, 26.6, 28.2, 30.1, 31.7, 33.3, 34.4, 36.3, 38.4, 39.5, 41, 42.3, 43.8, 45.4, 46, 47.6, 48.7, 48.7, 50.3]
edge_b_phi = [109.3, 114.5, 116.6, 118.6, 120.5, 122.4, 124.7, 126.6, 128.9, 130.3, 130.8, 133.1, 134.3, 134.3, 135.9, 137.8, 138, 139.4, 138.9, 135.9, 138.2, 138.6, 137.8, 134.5, 134.3, 131.7, 129.4, 126.1, 120.5, 119.8, 83.2, 79.5, 75.8, 73, 70, 70, 70.6, 73.7, 74.8, 76.5, 76.5, 78.1, 81.8, 83.2, 84.9, 89, 89.3, 91.1, 93.9, 96.3, 99.1, 103.3, 106.5, 107.9]
edge_b_eps = [51.2, 50.7, 48.7, 48.5, 47, 44.9, 44.8, 43, 42.2, 40.3, 39.5, 38.7, 37.1, 35.5, 34.1, 32.2, 30.9, 29.3, 28, 26.6, 25.3, 23.9, 22.6, 21.2, 19.6, 18.3, 17.6, 16.4, 15.3, 15, 15, 15.7, 17.2, 18.3, 19.4, 29, 30.9, 32.8, 33.9, 35.8, 37.9, 39.5, 41.5, 43, 43.4, 44, 45.2, 46.2, 46.8, 48.7, 49.3, 49.9, 50.1, 50.8]
# boxed regions on the maps
box_a_phi = [96.8, 108, 117.1, 105.7]
box_a_eps = [33.05, 33.05, 40.1, 40.1]
box_b_phi = [96.8, 108, 117.1, 105.7]
box_b_eps = [34, 34, 41, 41]

titles = ["2019-AUG-04 04:56 UTC", "2019-AUG-04 06:32 UTC"]
x_ticks = [80, 100, 120, 140]
y_ticks = [20, 30, 40, 50]
cbar_ticks = [0.5, 0.75, 1, 1.5, 2]
cbar_labels = ["0.5", "0.75", "1", "1.5", "2"]
cbar_minor = [0.6, 0.7, 0.8, 0.9]

# text anchor then arrow tip, in (phi, eps)
arcs_a = [("Arc A", (126.2, 45.7), (116.4, 39.6)), ("Arc B", (136.3, 38.7), (130.8, 36.2))]
arcs_b = [("Arc A", (126.2, 45.7), (116.2, 39.65)), ("Arc B", (136.1, 38.7), (130.25, 37.55))]

# ─── style ──────────────────────────────────────────────────────
sns.set_theme(style="ticks")
plt.rcParams["font.family"] = ["Liberation Serif", "DejaVu Serif"]
plt.rcParams["mathtext.fontset"] = "stix"
plt.rcParams.update({
    "font.size": 12, "axes.linewidth": 0.8, "axes.labelsize": 12,
    "xtick.labelsize": 12, "ytick.labelsize": 12,
    "text.color": "black", "axes.labelcolor": "black", "axes.edgecolor": "black",
    "xtick.color": "black", "ytick.color": "black",
    "xtick.major.size": 2.5, "ytick.major.size": 2.5,
    "xtick.major.width": 0.8, "ytick.major.width": 0.8,
    "xtick.minor.size": 1.5, "ytick.minor.size": 1.5,
    "xtick.minor.width": 0.6, "ytick.minor.width": 0.6,
    "xtick.major.pad": 3, "ytick.major.pad": 3,
})

W_PX, H_PX = 1467, 1149
norm = LogNorm(vmin=0.5, vmax=2)
CMAP = "PuBuGn"


def add_axes_px(fig, left, top, right, bottom):
    return fig.add_axes([left / W_PX, 1 - bottom / H_PX, (right - left) / W_PX, (bottom - top) / H_PX])


def rounded_outline(phi, eps):
    # quadratic curve through edge midpoints, gives the scalloped rim
    pts = np.column_stack([phi, eps])
    mids = (pts + np.roll(pts, -1, axis=0)) / 2
    verts, codes = [mids[-1]], [Path.MOVETO]
    for p, m in zip(pts, mids):
        verts += [p, m]
        codes += [Path.CURVE3, Path.CURVE3]
    return Path(verts, codes)


fig = plt.figure(figsize=(W_PX / 200, H_PX / 200), dpi=200)
ax_a = add_axes_px(fig, 105, 25, 677, 523)
ax_b = add_axes_px(fig, 705, 25, 1277, 523)
ax_c = add_axes_px(fig, 105, 548, 677, 1045)
ax_d = add_axes_px(fig, 705, 548, 1277, 1045)
cax = add_axes_px(fig, 1291, 25, 1343, 1045)

# scatter panels
for ax, parts, title, arcs in [
    (ax_a, [a_nw, a_ne, a_sw, a_se], titles[0], arcs_a),
    (ax_b, [b_nw, b_ne, b_sw, b_se], titles[1], arcs_b),
]:
    df = pd.DataFrame(sum(parts, []), columns=["phi", "eps", "g"])
    df = df.sort_values("phi", kind="stable")
    sns.scatterplot(data=df, x="phi", y="eps", hue="g", hue_norm=norm, palette=CMAP,
                    s=13, linewidth=0, legend=False, ax=ax)
    ax.text(0.026, 0.925, title, transform=ax.transAxes, ha="left", va="center", fontsize=12)
    for name, anchor, tip in arcs:
        ax.annotate(name, xy=tip, xytext=anchor, ha="left", va="bottom", fontsize=12,
                    arrowprops=dict(arrowstyle="-|>", color="k", lw=1.0, mutation_scale=12,
                                    shrinkA=0, shrinkB=0, relpos=(0, 0)))

# map panels
for ax, field, e_phi, e_eps, b_phi, b_eps in [
    (ax_c, field_a, edge_a_phi, edge_a_eps, box_a_phi, box_a_eps),
    (ax_d, field_b, edge_b_phi, edge_b_eps, box_b_phi, box_b_eps),
]:
    im = ax.imshow(np.array(field), origin="lower", aspect="auto", cmap=CMAP, norm=norm,
                   interpolation="bicubic", interpolation_stage="data",
                   extent=[grid_phi[0] - 2.5, grid_phi[-1] + 2.5, grid_eps[0] - 1.25, grid_eps[-1] + 1.25])
    outline = PathPatch(rounded_outline(e_phi, e_eps), transform=ax.transData,
                        facecolor="none", edgecolor="none")
    ax.add_patch(outline)
    im.set_clip_path(outline)
    ax.add_patch(Polygon(np.column_stack([b_phi, b_eps]), closed=True, fill=False, edgecolor="k", lw=1.4, zorder=4))
    ax.set_axisbelow(False)
    ax.grid(True, color="#b0b0b0", lw=0.8)

for ax in [ax_a, ax_b, ax_c, ax_d]:
    ax.set_xlim(70, 150)
    ax.set_ylim(15, 55)
    ax.set_xticks(x_ticks)
    ax.set_yticks(y_ticks)
    ax.set_xlabel("")
    ax.set_ylabel("")
for ax in [ax_a, ax_b]:
    ax.tick_params(labelbottom=False)
for ax in [ax_b, ax_d]:
    ax.tick_params(labelleft=False)
for ax in [ax_a, ax_c]:
    ax.set_ylabel(r"$\mathbfit{\varepsilon}$ (deg)", labelpad=3)
for ax in [ax_c, ax_d]:
    ax.set_xlabel(r"$\mathbfit{\phi}$ (deg)", labelpad=3)

# colour bar
cb = fig.colorbar(ScalarMappable(norm=norm, cmap=CMAP), cax=cax)
cb.set_ticks(cbar_ticks)
cb.set_ticklabels(cbar_labels)
cax.yaxis.set_ticks(cbar_minor, minor=True)
cax.yaxis.set_minor_formatter(NullFormatter())
cb.set_label("g-level", fontsize=12, labelpad=5)

fig.savefig("out.png", dpi=200)
